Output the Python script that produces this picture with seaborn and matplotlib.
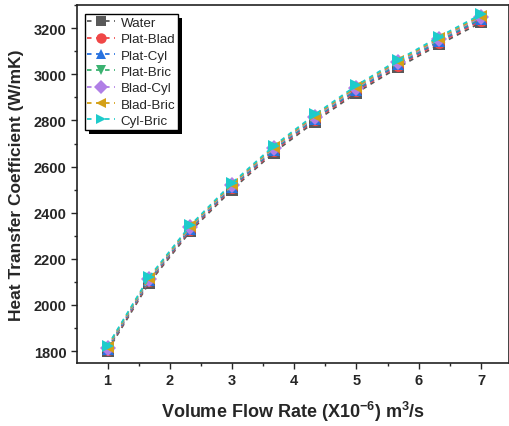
import numpy as np
import pandas as pd
import matplotlib
matplotlib.use("Agg")
import matplotlib.pyplot as plt
import seaborn as sns
from matplotlib.ticker import MultipleLocator
from matplotlib.patches import Rectangle

flow = [1.0, 1.667, 2.333, 3.0, 3.667, 4.333, 5.0, 5.667, 6.333, 7.0]
water = [1800, 2095, 2320, 2500, 2660, 2795, 2920, 3030, 3130, 3225]
plat_blad = [1806, 2102, 2327, 2507, 2667, 2803, 2928, 3038, 3138, 3233]
plat_cyl = [1809, 2106, 2331, 2512, 2672, 2808, 2933, 3043, 3144, 3239]
plat_bric = [1812, 2109, 2335, 2516, 2676, 2812, 2938, 3048, 3149, 3244]
blad_cyl = [1815, 2112, 2338, 2519, 2680, 2816, 2942, 3052, 3153, 3249]
blad_bric = [1818, 2116, 2342, 2523, 2684, 2821, 2946, 3057, 3158, 3254]
cyl_bric = [1822, 2120, 2346, 2528, 2689, 2826, 2952, 3062, 3164, 3260]

series_names = ["Water", "Plat-Blad", "Plat-Cyl", "Plat-Bric", "Blad-Cyl", "Blad-Bric", "Cyl-Bric"]
series_vals = [water, plat_blad, plat_cyl, plat_bric, blad_cyl, blad_bric, cyl_bric]
colors = ["#595959", "#F04747", "#2872E0", "#3BB271", "#B07FE6", "#D4A017", "#1ECBCB"]
markers = ["s", "o", "^", "v", "D", "<", ">"]

rows = []
for name, vals in zip(series_names, series_vals):
    for x, y in zip(flow, vals):
        rows.append({"flow": x, "htc": y, "series": name})
df = pd.DataFrame(rows)

sns.set_style("ticks")
plt.rcParams["font.family"] = ["Liberation Sans", "DejaVu Sans"]
plt.rcParams["mathtext.fontset"] = "custom"
plt.rcParams["mathtext.rm"] = "Liberation Sans:bold"
plt.rcParams["mathtext.default"] = "rm"

fig = plt.figure(figsize=(5.10, 4.27), dpi=100)
ax = fig.add_axes([0.151, 0.1475, 0.847, 0.838])

sns.lineplot(data=df, x="flow", y="htc", hue="series", style="series",
             hue_order=series_names, style_order=series_names,
             palette=colors, markers=markers, dashes=[(2.5, 2.5)] * 7,
             markersize=8, markeredgewidth=0, linewidth=1.3, ax=ax)

ax.set_xlim(0.51, 7.45)
ax.set_ylim(1748, 3300)
ax.xaxis.set_major_locator(MultipleLocator(1))
ax.xaxis.set_minor_locator(MultipleLocator(0.5))
ax.yaxis.set_major_locator(MultipleLocator(200))
ax.yaxis.set_minor_locator(MultipleLocator(100))
ax.tick_params(axis="both", which="major", direction="out", length=4, width=1,
               labelsize=10.5, top=False, right=False)
ax.tick_params(axis="both", which="minor", direction="out", length=2.5, width=1,
               top=False, right=False)
for lab in ax.get_xticklabels() + ax.get_yticklabels():
    lab.set_fontweight("bold")
for sp in ax.spines.values():
    sp.set_visible(True)
    sp.set_linewidth(1.2)
    sp.set_color("#222222")

ax.set_xlabel("Volume Flow Rate (X10$^{-6}$) m$^{3}$/s", fontsize=13, fontweight="bold", labelpad=8)
ax.set_ylabel("Heat Transfer Coefficient (W/mK)", fontsize=12.5, fontweight="bold", labelpad=7)

handles, labels = ax.get_legend_handles_labels()
leg = ax.legend(handles, labels, loc="upper left", bbox_to_anchor=(0.018, 0.975),
                fontsize=9.6, frameon=True, fancybox=False, shadow=False,
                edgecolor="black", facecolor="white", framealpha=1.0,
                labelspacing=0.3, handlelength=2.1,
                handletextpad=0.4, borderpad=0.2, borderaxespad=0.0)
leg.get_frame().set_linewidth(1.0)
leg.set_zorder(10)
for h in leg.legend_handles:
    h.set_markersize(7.5)
    h.set_linewidth(1.3)

fig.canvas.draw()
bb = leg.get_window_extent()
shadow = Rectangle((bb.x0 + 4, bb.y0 - 4), bb.width, bb.height, transform=None,
                   facecolor="black", edgecolor="none", zorder=9)
ax.add_artist(shadow)

fig.savefig("out.png", dpi=100)
